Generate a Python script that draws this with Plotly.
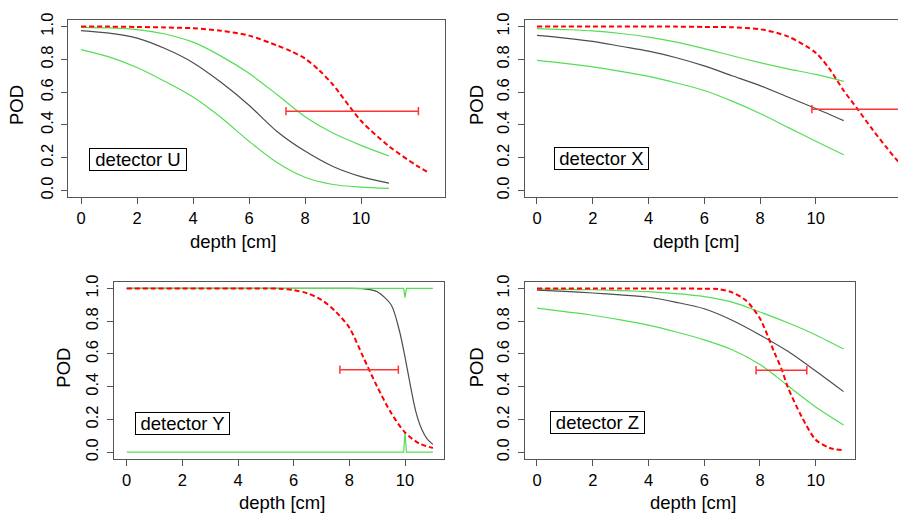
import plotly.graph_objects as go

# ---------------- data ----------------
depth = [0, 1, 2, 3, 4, 5, 6, 7, 8, 9, 10, 11]

# detector U
u_pod = [0.976, 0.96, 0.93, 0.866, 0.78, 0.66, 0.52, 0.36, 0.24, 0.146, 0.084, 0.044]
u_upper = [0.996, 0.992, 0.982, 0.955, 0.905, 0.82, 0.715, 0.585, 0.45, 0.35, 0.275, 0.21]
u_lower = [0.86, 0.815, 0.75, 0.665, 0.57, 0.445, 0.3, 0.17, 0.08, 0.036, 0.02, 0.012]
u_red_depth = [0, 1, 2, 3, 4, 5, 6, 7, 7.5, 8, 8.5, 9, 10, 11, 12, 12.4]
u_red = [1.0, 1.0, 0.998, 0.995, 0.99, 0.975, 0.945, 0.885, 0.85, 0.805, 0.735, 0.645,
         0.425, 0.27, 0.15, 0.11]
u_err = [7.32, 12.05]   # depth interval at POD 0.5 level
u_err_pod = 0.484

# detector X
x_pod = [0.946, 0.93, 0.91, 0.88, 0.85, 0.81, 0.76, 0.7, 0.64, 0.57, 0.5, 0.426]
x_upper = [0.988, 0.982, 0.974, 0.958, 0.936, 0.905, 0.866, 0.822, 0.78, 0.742, 0.708, 0.666]
x_lower = [0.794, 0.776, 0.754, 0.727, 0.696, 0.656, 0.61, 0.545, 0.47, 0.385, 0.3, 0.218]
x_red_depth = [0, 1, 2, 3, 4, 5, 6, 7, 8, 9, 10, 10.5, 11, 11.5, 12, 12.5, 13, 13.5]
x_red = [1.0, 1.0, 1.0, 1.0, 1.0, 1.0, 0.998, 0.996, 0.984, 0.94, 0.84, 0.74, 0.61, 0.496,
         0.38, 0.27, 0.17, 0.11]
x_err = [9.86, 13.14]
x_err_pod = 0.496

# detector Y
y_depth = [0, 1, 2, 3, 4, 5, 6, 7, 8, 8.5, 9, 9.5, 9.8, 10, 10.2, 10.4, 10.6, 10.8, 11]
y_pod = [1.0, 1.0, 1.0, 1.0, 1.0, 1.0, 1.0, 1.0, 1.0, 0.998, 0.98, 0.9, 0.74, 0.58, 0.4,
         0.24, 0.14, 0.08, 0.048]
y_band_depth = [0, 9.95, 10.0, 10.05, 11]
y_upper = [1.0, 1.0, 0.944, 1.0, 1.0]
y_lower = [0.0, 0.0, 0.12, 0.0, 0.0]
y_red_depth = [0, 1, 2, 3, 4, 5, 5.5, 6, 6.5, 7, 7.5, 8, 8.5, 9, 9.5, 10, 10.5, 11]
y_red = [1.0, 1.0, 1.0, 1.0, 1.0, 1.0, 0.998, 0.99, 0.97, 0.93, 0.86, 0.76, 0.58, 0.4,
         0.24, 0.12, 0.054, 0.026]
y_err = [7.66, 9.76]
y_err_pod = 0.504

# detector Z
z_pod = [0.99, 0.982, 0.972, 0.96, 0.946, 0.915, 0.876, 0.806, 0.716, 0.616, 0.496, 0.37]
z_upper = [0.996, 0.994, 0.992, 0.987, 0.98, 0.968, 0.95, 0.916, 0.856, 0.79, 0.716, 0.63]
z_lower = [0.88, 0.858, 0.836, 0.808, 0.776, 0.734, 0.686, 0.626, 0.536, 0.406, 0.276, 0.166]
z_red_depth = [0, 1, 2, 3, 4, 5, 6, 6.5, 7, 7.5, 8, 8.5, 8.8, 9, 9.5, 10, 10.5, 11]
z_red = [1.0, 1.0, 1.0, 1.0, 1.0, 1.0, 0.998, 0.996, 0.976, 0.926, 0.816, 0.616, 0.496,
         0.396, 0.216, 0.076, 0.026, 0.012]
z_err = [7.86, 9.68]
z_err_pod = 0.5

x_ticks = [0, 2, 4, 6, 8, 10]
y_ticks = [0.0, 0.2, 0.4, 0.6, 0.8, 1.0]
y_tick_text = ["0.0", "0.2", "0.4", "0.6", "0.8", "1.0"]
labels = ["detector U", "detector X", "detector Y", "detector Z"]
x_title = "depth [cm]"
y_title = "POD"

# ---------------- styling ----------------
W, H = 898, 521
FONT = "Liberation Sans, Arial, sans-serif"
GREY = "#4d4d4d"
GREEN = "#55dd55"
RED = "#ff0000"
ERR = "#ff3333"
AXC = "#555555"

panels = [
    dict(pod=u_pod, up=u_upper, lo=u_lower, bd=depth, cd=depth, rd=u_red_depth, red=u_red,
         err=u_err, ep=u_err_pod, box=(68.3, 445, 13.3, 193.3), xr=[-0.454, 13.0], right=True,
         lab=(138, 155.5), lw=96, title_x=233, pod_x=16.5),
    dict(pod=x_pod, up=x_upper, lo=x_lower, bd=depth, cd=depth, rd=x_red_depth, red=x_red,
         err=x_err, ep=x_err_pod, box=(525, 898, 13.3, 193.3), xr=[-0.43, 12.95], right=False,
         lab=(601, 154.2), lw=93, title_x=696, pod_x=476.5),
    dict(pod=y_pod, up=y_upper, lo=y_lower, bd=y_band_depth, cd=y_depth, rd=y_red_depth, red=y_red,
         err=y_err, ep=y_err_pod, box=(114, 444, 279.7, 459.7), xr=[-0.456, 11.40], right=True,
         lab=(182.7, 424), lw=93, title_x=282, pod_x=63.3),
    dict(pod=z_pod, up=z_upper, lo=z_lower, bd=depth, cd=depth, rd=z_red_depth, red=z_red,
         err=z_err, ep=z_err_pod, box=(525, 855.3, 279.7, 459.7), xr=[-0.43, 11.42], right=True,
         lab=(597, 422.5), lw=93, title_x=693, pod_x=476),
]

fig = go.Figure()
annotations = []
layout = {}

for i, p in enumerate(panels):
    n = "" if i == 0 else str(i + 1)
    xa, ya = "x" + n, "y" + n
    l, r, t, b = p["box"]
    spline = dict(shape="spline", smoothing=0.8)
    if i == 2:
        fig.add_trace(go.Scatter(x=p["cd"], y=p["pod"], mode="lines", xaxis=xa, yaxis=ya,
                                 line=dict(color=GREY, width=1.2, **spline)))
        fig.add_trace(go.Scatter(x=p["bd"], y=p["up"], mode="lines", xaxis=xa, yaxis=ya,
                                 line=dict(color=GREEN, width=1.2)))
        fig.add_trace(go.Scatter(x=p["bd"], y=p["lo"], mode="lines", xaxis=xa, yaxis=ya,
                                 line=dict(color=GREEN, width=1.2)))
    else:
        fig.add_trace(go.Scatter(x=p["bd"], y=p["up"], mode="lines", xaxis=xa, yaxis=ya,
                                 line=dict(color=GREEN, width=1.2, **spline)))
        fig.add_trace(go.Scatter(x=p["bd"], y=p["lo"], mode="lines", xaxis=xa, yaxis=ya,
                                 line=dict(color=GREEN, width=1.2, **spline)))
        fig.add_trace(go.Scatter(x=p["cd"], y=p["pod"], mode="lines", xaxis=xa, yaxis=ya,
                                 line=dict(color=GREY, width=1.2, **spline)))
    fig.add_trace(go.Scatter(x=p["rd"], y=p["red"], mode="lines", xaxis=xa, yaxis=ya,
                             line=dict(color=RED, width=2, dash="5px,3px", **spline)))
    fig.add_trace(go.Scatter(x=p["err"], y=[p["ep"], p["ep"]], mode="lines+markers",
                             xaxis=xa, yaxis=ya,
                             line=dict(color=ERR, width=1.5),
                             marker=dict(symbol="line-ns-open", size=6,
                                         line=dict(color=ERR, width=1.5))))

    layout["xaxis" + n] = dict(
        domain=[l / W, min(r / W, 1.0)], range=p["xr"], anchor=ya,
        tickvals=x_ticks, ticks="outside", ticklen=6, tickcolor=AXC, tickwidth=1,
        showline=True, linecolor=AXC, linewidth=1, mirror=True,
        showgrid=False, zeroline=False, ticklabelstandoff=0,
        tickfont=dict(family=FONT, size=16.5, color="#000"))
    layout["yaxis" + n] = dict(
        domain=[1 - b / H, 1 - t / H], range=[-0.04, 1.04], anchor=xa,
        tickvals=y_ticks, ticktext=y_tick_text, tickangle=-90,
        ticks="outside", ticklen=6, tickcolor=AXC, tickwidth=1,
        showline=True, linecolor=AXC, linewidth=1, mirror=p["right"],
        showgrid=False, zeroline=False, ticklabelstandoff=2,
        tickfont=dict(family=FONT, size=16.5, color="#000"))

    # axis titles
    annotations.append(dict(text=x_title, x=p["title_x"] / W, y=1 - (b + 45) / H,
                            xref="paper", yref="paper", showarrow=False,
                            xanchor="center", yanchor="middle",
                            font=dict(family=FONT, size=18.5, color="#000")))
    annotations.append(dict(text=y_title, x=p["pod_x"] / W, y=1 - ((t + b) / 2 - 3) / H,
                            xref="paper", yref="paper", showarrow=False, textangle=-90,
                            xanchor="center", yanchor="middle",
                            font=dict(family=FONT, size=18.5, color="#000")))
    # detector label
    annotations.append(dict(text=labels[i], x=p["lab"][0] / W, y=1 - p["lab"][1] / H,
                            xref="paper", yref="paper", showarrow=False,
                            xanchor="center", yanchor="middle",
                            width=p["lw"], height=21, borderpad=0,
                            bordercolor="#000", borderwidth=1, bgcolor="#fff",
                            font=dict(family=FONT, size=18.5, color="#000")))

fig.update_layout(
    width=W, height=H, autosize=False,
    margin=dict(l=0, r=0, t=0, b=0),
    paper_bgcolor="white", plot_bgcolor="white",
    showlegend=False, annotations=annotations, hovermode=False,
    **layout)

fig.write_html("out.html", config={"displayModeBar": False, "staticPlot": True},
               post_script="document.body.style.margin='0px';document.body.style.overflow='hidden';")
